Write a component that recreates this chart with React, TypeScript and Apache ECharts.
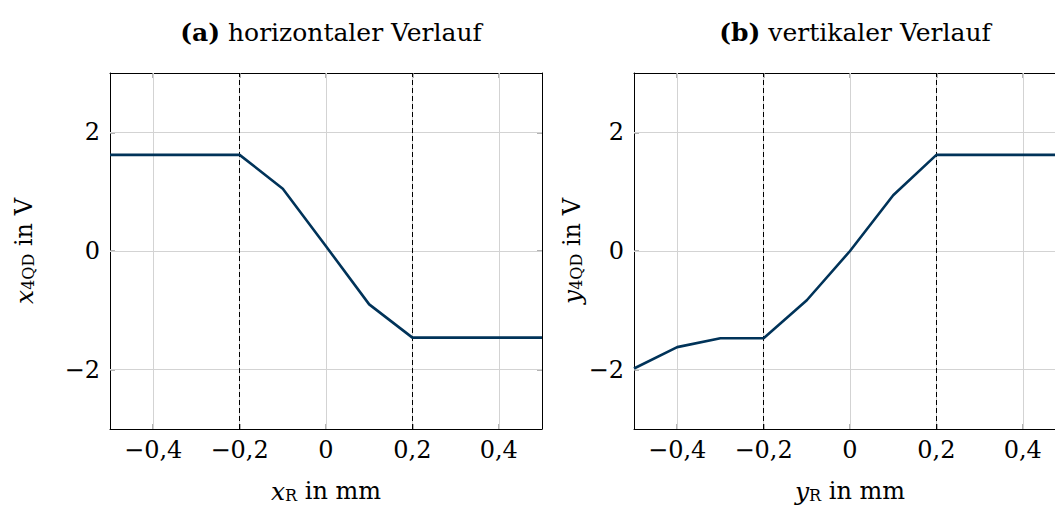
import React, { useEffect, useRef } from "react";
import * as echarts from "echarts";

const xPositions = [-0.5, -0.4, -0.3, -0.2, -0.1, 0, 0.1, 0.2, 0.3, 0.4, 0.5];
const horizontalValues = [1.62, 1.62, 1.62, 1.62, 1.05, 0.08, -0.9, -1.46, -1.46, -1.46, -1.46];
const verticalValues = [-1.98, -1.62, -1.47, -1.47, -0.83, 0.0, 0.94, 1.62, 1.62, 1.62, 1.62];
const xTicks = [-0.4, -0.2, 0, 0.2, 0.4];
const yTicks = [-2, 0, 2];
const dashedLines = [-0.2, 0.2];
const titles = ["{b|(a)} horizontaler Verlauf", "{b|(b)} vertikaler Verlauf"];
const xNames = ["{i|x}{s|R} in mm", "{i|y}{s|R} in mm"];
const yNames = ["{i|x}{s|4QD} in V", "{i|y}{s|4QD} in V"];

const FONT = "DejaVu Serif";
const LINE_COLOR = "#003359";

const fmtX = (v: number) => {
  if (Math.abs(v) < 1e-9) return "0";
  return (v < 0 ? "−" : "") + Math.abs(v).toFixed(1).replace(".", ",");
};
const fmtY = (v: number) => {
  if (Math.abs(v) < 1e-9) return "0";
  return (v < 0 ? "−" : "") + Math.abs(v).toFixed(0);
};

const richName = {
  i: { fontFamily: FONT, fontStyle: "italic", fontSize: 25, color: "#000", lineHeight: 24 },
  s: { fontFamily: FONT, fontSize: 16, color: "#000", verticalAlign: "bottom", lineHeight: 6 },
};

export default function App() {
  const ref = useRef<HTMLDivElement>(null);
  useEffect(() => {
    if (!ref.current) return;
    const chart = echarts.init(ref.current, undefined, { renderer: "svg" });
    const grids = [
      { left: 110, right: 513, top: 73, bottom: 77, outerBoundsMode: "none", containLabel: false },
      { left: 634, right: -11, top: 73, bottom: 77, outerBoundsMode: "none", containLabel: false },
    ];
    const yNameGaps = [74, 50];
    const tickStyle = { color: "#9a9a9a", width: 1.5 };
    const xAxes: any[] = [];
    const yAxes: any[] = [];
    const series: any[] = [];
    [0, 1].forEach((g) => {
      xAxes.push({
        type: "value",
        gridIndex: g,
        min: -0.5,
        max: 0.5,
        interval: 0.1,
        position: "bottom",
        name: xNames[g],
        nameLocation: "middle",
        nameGap: 50,
        nameTextStyle: { fontFamily: FONT, fontSize: 24, color: "#000", lineHeight: 24, rich: richName },
        axisLine: { show: true, onZero: false, lineStyle: { color: "#000", width: 1 } },
        axisTick: { show: true, inside: true, length: 5, customValues: xTicks, lineStyle: tickStyle },
        axisLabel: { customValues: xTicks, formatter: fmtX, fontFamily: FONT, fontSize: 24, color: "#000", margin: 9 },
        splitLine: { show: false },
      });
      xAxes.push({
        type: "value",
        gridIndex: g,
        min: -0.5,
        max: 0.5,
        interval: 0.1,
        position: "top",
        axisLine: { show: true, onZero: false, lineStyle: { color: "#000", width: 1 } },
        axisTick: { show: true, inside: true, length: 5, customValues: xTicks, lineStyle: tickStyle },
        axisLabel: { show: false },
        splitLine: { show: false },
      });
      yAxes.push({
        type: "value",
        gridIndex: g,
        min: -3,
        max: 3,
        interval: 1,
        position: "left",
        name: yNames[g],
        nameLocation: "middle",
        nameRotate: 90,
        nameGap: yNameGaps[g],
        nameTextStyle: { fontFamily: FONT, fontSize: 24, color: "#000", lineHeight: 24, rich: richName },
        axisLine: { show: true, onZero: false, lineStyle: { color: "#000", width: 1 } },
        axisTick: { show: true, inside: true, length: 5, customValues: yTicks, lineStyle: tickStyle },
        axisLabel: { customValues: yTicks, formatter: fmtY, fontFamily: FONT, fontSize: 24, color: "#000", margin: 10 },
        splitLine: { show: false },
      });
      yAxes.push({
        type: "value",
        gridIndex: g,
        min: -3,
        max: 3,
        interval: 1,
        position: "right",
        axisLine: { show: true, onZero: false, lineStyle: { color: "#000", width: 1 } },
        axisTick: { show: true, inside: true, length: 5, customValues: yTicks, lineStyle: tickStyle },
        axisLabel: { show: false },
        splitLine: { show: false },
      });
      const xi = g * 2;
      const yi = g * 2;
      series.push({
        type: "line",
        xAxisIndex: xi,
        yAxisIndex: yi,
        data: [],
        z: 1,
        silent: true,
        markLine: {
          silent: true,
          symbol: "none",
          label: { show: false },
          lineStyle: { color: "#d3d3d3", width: 1, type: "solid" },
          data: [
            ...xTicks.map((v) => ({ xAxis: v })),
            ...yTicks.map((v) => ({ yAxis: v })),
          ],
        },
      });
      series.push({
        type: "line",
        xAxisIndex: xi,
        yAxisIndex: yi,
        data: [],
        z: 2,
        silent: true,
        markLine: {
          silent: true,
          symbol: "none",
          label: { show: false },
          lineStyle: { color: "#000", width: 1, type: [5, 3] },
          data: dashedLines.map((v) => ({ xAxis: v })),
        },
      });
      const vals = g === 0 ? horizontalValues : verticalValues;
      series.push({
        type: "line",
        xAxisIndex: xi,
        yAxisIndex: yi,
        z: 5,
        symbol: "none",
        lineStyle: { color: LINE_COLOR, width: 2.6 },
        data: xPositions.map((x, i) => [x, vals[i]]),
      });
    });
    const titleStyle = {
      fontFamily: FONT,
      fontSize: 25,
      fontWeight: "normal",
      color: "#000",
      rich: { b: { fontFamily: FONT, fontSize: 25, fontWeight: "bold", color: "#000" } },
    };
    chart.setOption({
      animation: false,
      backgroundColor: "#fff",
      title: [
        { text: titles[0], left: 326, top: 15, textAlign: "center", textStyle: titleStyle },
        { text: titles[1], left: 850, top: 15, textAlign: "center", textStyle: titleStyle },
      ],
      grid: grids,
      xAxis: xAxes,
      yAxis: yAxes,
      series,
    });
    return () => chart.dispose();
  }, []);
  return (
    <div
      ref={ref}
      style={{ position: "fixed", left: 0, top: 0, width: 1055, height: 506, background: "#fff" }}
    />
  );
}
